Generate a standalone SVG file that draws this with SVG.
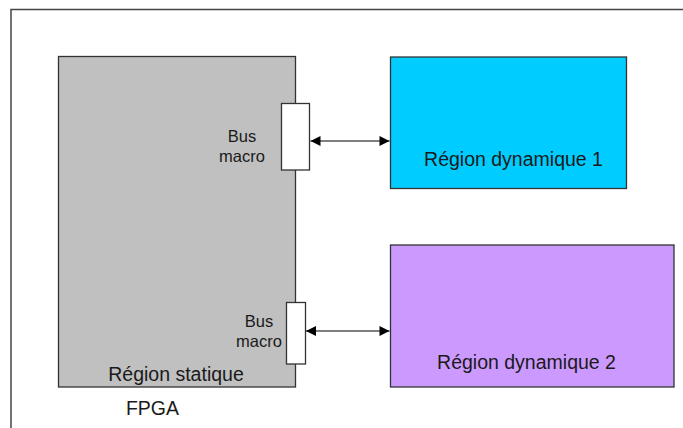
<svg xmlns="http://www.w3.org/2000/svg" width="683" height="428" viewBox="0 0 683 428">
<style>
text{font-family:"Liberation Sans",Arial,sans-serif;fill:#1a1a1a}
.big{font-size:19.5px}
.small{font-size:16.5px}
.box{stroke:#333;stroke-width:1.3}
.conn{stroke:#000;stroke-width:1.2;fill:none;marker-start:url(#ah);marker-end:url(#ah)}
</style>
<defs>
<marker id="ah" viewBox="0 0 10 10" refX="10" refY="5" markerWidth="16" markerHeight="10" markerUnits="userSpaceOnUse" orient="auto-start-reverse">
<path d="M0,0 L10,5 L0,10 z" fill="#000"/>
</marker>
</defs>
<rect width="683" height="428" fill="#fff"/>
<path d="M683,9.5 H11 V428" fill="none" stroke="#444" stroke-width="1.5"/>
<g id="static">
<rect class="box" x="58.5" y="56.5" width="237" height="330.5" fill="#c0c0c0"/>
<text class="big" x="176" y="381" text-anchor="middle">Région statique</text>
</g>
<g id="fpga"><text class="big" x="152.5" y="415" text-anchor="middle">FPGA</text></g>
<g id="bus1">
<rect class="box" x="281.5" y="103.5" width="28" height="66.5" fill="#fff"/>
<text class="small" x="242" y="142" text-anchor="middle">Bus</text>
<text class="small" x="242" y="162" text-anchor="middle">macro</text>
</g>
<g id="bus2">
<rect class="box" x="286.5" y="302.5" width="19" height="61.5" fill="#fff"/>
<text class="small" x="259" y="327" text-anchor="middle">Bus</text>
<text class="small" x="259" y="347" text-anchor="middle">macro</text>
</g>
<g id="dyn1">
<rect class="box" x="390.5" y="57" width="236" height="131.5" fill="#00ccff"/>
<text class="big" x="513.5" y="166" text-anchor="middle">Région dynamique 1</text>
</g>
<g id="dyn2">
<rect class="box" x="390.5" y="245" width="283.5" height="142" fill="#cc99ff"/>
<text class="big" x="526.5" y="369" text-anchor="middle">Région dynamique 2</text>
</g>
<g id="connectors">
<line class="conn" x1="310.5" y1="141" x2="389.5" y2="141"/>
<line class="conn" x1="306" y1="331" x2="389.5" y2="331"/>
</g>
</svg>
